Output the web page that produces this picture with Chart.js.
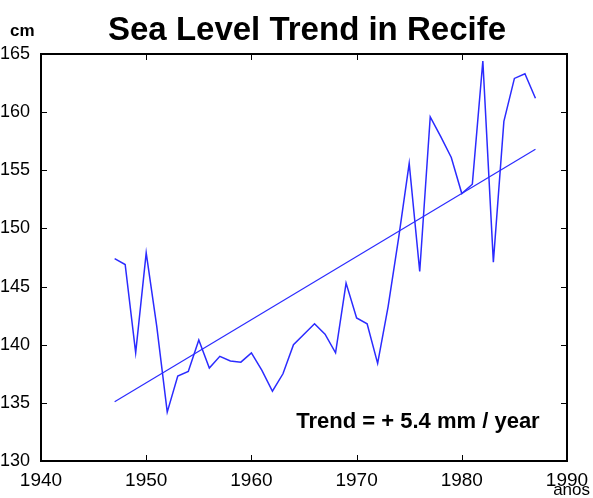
<!DOCTYPE html>
<html>
<head>
<meta charset="utf-8">
<script src="https://cdn.jsdelivr.net/npm/chart.js@4/dist/chart.umd.min.js"></script>
<style>
  body { margin: 0; background: #fff; }
  #wrap { width: 593px; height: 498px; }
</style>
</head>
<body>
<div id="wrap"><canvas id="myChart" width="593" height="498"></canvas></div>
<script>
// yearly mean sea level (cm)
const years = [1947, 1948, 1949, 1950, 1951, 1952, 1953, 1954, 1955, 1956,
  1957, 1958, 1959, 1960, 1961, 1962, 1963, 1964, 1965, 1966,
  1967, 1968, 1969, 1970, 1971, 1972, 1973, 1974, 1975, 1976,
  1977, 1978, 1979, 1980, 1981, 1982, 1983, 1984, 1985, 1986, 1987];
const seaLevel = [147.4, 146.9, 139.3, 147.9, 141.6, 134.2, 137.3, 137.7, 140.4, 138.0,
  139.0, 138.6, 138.5, 139.3, 137.8, 136.0, 137.5, 140.0, 140.9, 141.8,
  140.9, 139.3, 145.3, 142.3, 141.8, 138.4, 143.3, 149.2, 155.6, 146.3,
  159.6, 157.9, 156.1, 153.0, 153.8, 164.4, 147.1, 159.2, 162.9, 163.3, 161.2];

// trend line end points
const trendYears = [1947, 1987];
const trendValues = [135.1, 156.8];

const xTicks = [1940, 1950, 1960, 1970, 1980, 1990];
const yTicks = [130, 135, 140, 145, 150, 155, 160, 165];

const titleText = "Sea Level Trend in Recife";
const trendText = "Trend = + 5.4 mm / year";
const yUnit = "cm";
const xUnit = "anos";

const lineColor = "#2b2bff";
const font = "'Liberation Sans', Arial, sans-serif";

// box, inward ticks and the loose texts
const framePlugin = {
  id: "frame",
  afterDraw(chart) {
    const c = chart.ctx;
    const a = chart.chartArea;
    const xs = chart.scales.x;
    const ys = chart.scales.y;
    c.save();
    c.strokeStyle = "#000";
    c.lineWidth = 2;
    c.strokeRect(a.left, a.top, a.right - a.left, a.bottom - a.top);
    c.lineWidth = 1;
    c.beginPath();
    xTicks.slice(1, -1).forEach((v) => {
      const px = Math.round(xs.getPixelForValue(v)) + 0.5;
      c.moveTo(px, a.bottom); c.lineTo(px, a.bottom - 6);
      c.moveTo(px, a.top); c.lineTo(px, a.top + 6);
    });
    yTicks.slice(1, -1).forEach((v) => {
      const py = Math.round(ys.getPixelForValue(v)) + 0.5;
      c.moveTo(a.left, py); c.lineTo(a.left + 6, py);
      c.moveTo(a.right, py); c.lineTo(a.right - 6, py);
    });
    c.stroke();

    c.fillStyle = "#000";
    c.textBaseline = "alphabetic";
    c.textAlign = "center";
    c.font = "bold 33px " + font;
    c.fillText(titleText, 307, 40);
    c.font = "bold 22px " + font;
    c.fillText(trendText, 418, 428);
    c.textAlign = "left";
    c.font = "bold 17px " + font;
    c.fillText(yUnit, 10, 36);
    c.textAlign = "right";
    c.font = "17px " + font;
    c.fillText(xUnit, 590, 495);
    c.restore();
  },
};

const ctx = document.getElementById("myChart").getContext("2d");
const myChart = new Chart(ctx, {
  type: "line",
  data: {
    datasets: [
      {
        label: "Sea level",
        data: years.map((y, i) => ({ x: y, y: seaLevel[i] })),
        borderColor: lineColor,
        borderWidth: 1.5,
        pointRadius: 0,
        tension: 0,
      },
      {
        label: "Trend",
        data: trendYears.map((y, i) => ({ x: y, y: trendValues[i] })),
        borderColor: lineColor,
        borderWidth: 1.2,
        pointRadius: 0,
      },
    ],
  },
  options: {
    responsive: false,
    animation: false,
    layout: { padding: { top: 54, right: 26, left: 0, bottom: 0 } },
    plugins: {
      legend: { display: false },
      tooltip: { enabled: false },
    },
    scales: {
      x: {
        type: "linear",
        min: 1940,
        max: 1990,
        grid: { display: false },
        border: { display: false },
        afterBuildTicks: (s) => { s.ticks = xTicks.map((v) => ({ value: v })); },
        afterFit: (s) => { s.height = 37; },
        ticks: {
          color: "#000",
          padding: 0,
          maxRotation: 0,
          font: { family: font, size: 19 },
          callback: (v) => String(v),
        },
      },
      y: {
        min: 130,
        max: 165,
        grid: { display: false },
        border: { display: false },
        afterBuildTicks: (s) => { s.ticks = yTicks.map((v) => ({ value: v })); },
        afterFit: (s) => { s.width = 41; },
        ticks: {
          color: "#000",
          padding: 3,
          font: { family: font, size: 18 },
          callback: (v) => String(v),
        },
      },
    },
  },
  plugins: [framePlugin],
});
</script>
</body>
</html>
